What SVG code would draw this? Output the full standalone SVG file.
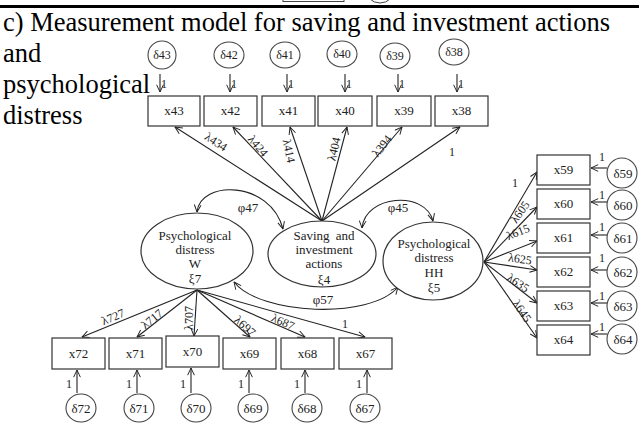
<svg xmlns="http://www.w3.org/2000/svg" width="639" height="423" viewBox="0 0 639 423">
  <defs>
    <marker id="arr" viewBox="0 0 10 10" refX="9.5" refY="5" markerWidth="8" markerHeight="8" markerUnits="userSpaceOnUse" orient="auto-start-reverse">
      <path d="M0.5,0.8 L9.5,5 L0.5,9.2" fill="none" stroke="#222" stroke-width="1.2"/>
    </marker>
    <style>
      text { font-family: "Liberation Serif", "Times New Roman", serif; fill: #222; }
      .title { font-family: "Liberation Serif", "Times New Roman", serif; font-size: 26.5px; fill: #000; }
      .box { fill: #fff; stroke: #333; stroke-width: 1.2; }
      .lat { fill: #fff; stroke: #333; stroke-width: 1.2; }
      .err { fill: #fff; stroke: #444; stroke-width: 1.1; }
      .lbl { font-size: 13px; text-anchor: middle; }
      .sm { font-size: 12px; text-anchor: middle; }
      .one { font-size: 12px; text-anchor: middle; }
      .ln { fill: none; stroke: #222; stroke-width: 1.1; marker-end: url(#arr); }
      .cov { fill: none; stroke: #222; stroke-width: 1.1; marker-start: url(#arr); marker-end: url(#arr); }
    </style>
  </defs>
  <rect width="639" height="423" fill="#fff"/>

  <!-- header rule and the edge of the preceding panel -->
  <g id="header">
    <rect x="283" y="-20" width="61" height="21.5" fill="#fff" stroke="#444" stroke-width="1"/>
    <circle cx="380" cy="-12" r="15" fill="none" stroke="#444" stroke-width="1"/>
    <line x1="0" y1="6.5" x2="639" y2="6.5" stroke="#000" stroke-width="3"/>
    <text class="title" x="3" y="31" textLength="607" lengthAdjust="spacingAndGlyphs">c) Measurement model for saving and investment actions</text>
    <text class="title" x="3" y="62">and</text>
    <text class="title" x="3" y="93">psychological</text>
    <text class="title" x="3" y="124">distress</text>
  </g>

  <!-- connectors -->
  <g id="connectors">
    <!-- error terms to top indicators -->
    <line class="ln" x1="160" y1="74" x2="160" y2="92"/>
    <line class="ln" x1="230" y1="74" x2="230" y2="92"/>
    <line class="ln" x1="287" y1="74" x2="287" y2="92"/>
    <line class="ln" x1="345" y1="74" x2="345" y2="92"/>
    <line class="ln" x1="398" y1="74" x2="398" y2="92"/>
    <line class="ln" x1="457" y1="74" x2="457" y2="92"/>
    <!-- saving and investment loadings -->
    <line class="ln" x1="322" y1="221" x2="175" y2="127"/>
    <line class="ln" x1="322" y1="221" x2="233" y2="127"/>
    <line class="ln" x1="322" y1="221" x2="290" y2="127"/>
    <line class="ln" x1="322" y1="221" x2="347" y2="127"/>
    <line class="ln" x1="322" y1="221" x2="402" y2="127"/>
    <line class="ln" x1="322" y1="221" x2="460" y2="127"/>
    <!-- distress W loadings -->
    <line class="ln" x1="197" y1="290" x2="82" y2="337"/>
    <line class="ln" x1="197" y1="290" x2="137" y2="337"/>
    <line class="ln" x1="197" y1="290" x2="194" y2="336"/>
    <line class="ln" x1="197" y1="290" x2="250" y2="337"/>
    <line class="ln" x1="197" y1="290" x2="305" y2="337"/>
    <line class="ln" x1="197" y1="290" x2="365" y2="337"/>
    <!-- error terms to bottom indicators -->
    <line class="ln" x1="77" y1="393" x2="77" y2="370"/>
    <line class="ln" x1="137" y1="393" x2="137" y2="370"/>
    <line class="ln" x1="191" y1="393" x2="191" y2="368"/>
    <line class="ln" x1="249" y1="393" x2="249" y2="370"/>
    <line class="ln" x1="305" y1="393" x2="305" y2="370"/>
    <line class="ln" x1="367" y1="393" x2="367" y2="370"/>
    <!-- distress HH loadings -->
    <line class="ln" x1="484" y1="262" x2="537" y2="172"/>
    <line class="ln" x1="484" y1="262" x2="537" y2="207"/>
    <line class="ln" x1="484" y1="262" x2="537" y2="241"/>
    <line class="ln" x1="484" y1="262" x2="537" y2="270"/>
    <line class="ln" x1="484" y1="262" x2="537" y2="303"/>
    <line class="ln" x1="484" y1="262" x2="537" y2="338"/>
    <!-- error terms to right indicators -->
    <line class="ln" x1="607" y1="168" x2="591" y2="168"/>
    <line class="ln" x1="607" y1="202" x2="591" y2="202"/>
    <line class="ln" x1="607" y1="235" x2="591" y2="235"/>
    <line class="ln" x1="607" y1="270" x2="591" y2="270"/>
    <line class="ln" x1="607" y1="303" x2="591" y2="303"/>
    <line class="ln" x1="607" y1="334" x2="591" y2="334"/>
    <!-- covariances -->
    <path class="cov" d="M197,212 C200,180 270,180 283,229"/>
    <path class="cov" d="M362,228 C365,195 425,190 433,221"/>
    <path class="cov" d="M234,282 C260,315 370,320 398,287"/>

    <!-- connector labels -->
    <text class="one" x="164" y="88" text-anchor="start">1</text>
    <text class="one" x="234" y="88" text-anchor="start">1</text>
    <text class="one" x="291" y="88" text-anchor="start">1</text>
    <text class="one" x="349" y="88" text-anchor="start">1</text>
    <text class="one" x="402" y="88" text-anchor="start">1</text>
    <text class="one" x="461" y="88" text-anchor="start">1</text>

    <text class="sm" transform="translate(216,142) rotate(33)" y="4">λ434</text>
    <text class="sm" transform="translate(258,146) rotate(50)" y="4">λ424</text>
    <text class="sm" transform="translate(289,151) rotate(78)" y="4">λ414</text>
    <text class="sm" transform="translate(334,149) rotate(-77)" y="4">λ404</text>
    <text class="sm" transform="translate(382,146) rotate(-52)" y="4">λ394</text>
    <text class="one" x="452" y="156">1</text>

    <text class="lbl" x="248" y="212">φ47</text>
    <text class="lbl" x="398" y="212">φ45</text>
    <text class="lbl" x="323" y="304">φ57</text>

    <text class="sm" transform="translate(113,317) rotate(-23)" y="4">λ727</text>
    <text class="sm" transform="translate(152,319) rotate(-39)" y="4">λ717</text>
    <text class="sm" transform="translate(189,318) rotate(-90)" y="4">λ707</text>
    <text class="sm" transform="translate(245,326) rotate(42)" y="4">λ697</text>
    <text class="sm" transform="translate(283,322) rotate(24)" y="4">λ687</text>
    <text class="one" x="345" y="328">1</text>

    <text class="one" x="69" y="388">1</text>
    <text class="one" x="129" y="388">1</text>
    <text class="one" x="183" y="388">1</text>
    <text class="one" x="241" y="388">1</text>
    <text class="one" x="297" y="388">1</text>
    <text class="one" x="359" y="388">1</text>

    <text class="one" x="515" y="187">1</text>
    <text class="sm" transform="translate(520,212) rotate(-55)" y="4">λ605</text>
    <text class="sm" transform="translate(518,232) rotate(-22)" y="4">λ615</text>
    <text class="sm" transform="translate(520,259) rotate(8)" y="4">λ625</text>
    <text class="sm" transform="translate(518,283) rotate(34)" y="4">λ635</text>
    <text class="sm" transform="translate(522,311) rotate(55)" y="4">λ645</text>

    <text class="one" x="602" y="161">1</text>
    <text class="one" x="602" y="199">1</text>
    <text class="one" x="602" y="231">1</text>
    <text class="one" x="602" y="262">1</text>
    <text class="one" x="602" y="300">1</text>
    <text class="one" x="602" y="331">1</text>
  </g>

  <!-- top indicators and their errors -->
  <g id="d43"><ellipse class="err" cx="162" cy="55" rx="14" ry="14"/><text class="sm" x="162" y="59">δ43</text></g>
  <g id="d42"><ellipse class="err" cx="229" cy="55" rx="15" ry="13"/><text class="sm" x="229" y="59">δ42</text></g>
  <g id="d41"><ellipse class="err" cx="285" cy="55" rx="15" ry="13"/><text class="sm" x="285" y="59">δ41</text></g>
  <g id="d40"><ellipse class="err" cx="342" cy="54" rx="15" ry="13"/><text class="sm" x="342" y="58">δ40</text></g>
  <g id="d39"><ellipse class="err" cx="395" cy="56" rx="15" ry="13"/><text class="sm" x="395" y="60">δ39</text></g>
  <g id="d38"><ellipse class="err" cx="454" cy="52" rx="15" ry="13"/><text class="sm" x="454" y="56">δ38</text></g>

  <g id="x43"><rect class="box" x="148" y="96" width="52" height="30"/><text class="lbl" x="174" y="115">x43</text></g>
  <g id="x42"><rect class="box" x="204" y="96" width="53" height="30"/><text class="lbl" x="230.5" y="115">x42</text></g>
  <g id="x41"><rect class="box" x="262" y="96" width="53" height="30"/><text class="lbl" x="288.5" y="115">x41</text></g>
  <g id="x40"><rect class="box" x="318" y="96" width="54" height="30"/><text class="lbl" x="345" y="115">x40</text></g>
  <g id="x39"><rect class="box" x="377" y="96" width="54" height="30"/><text class="lbl" x="404" y="115">x39</text></g>
  <g id="x38"><rect class="box" x="435" y="96" width="53" height="30"/><text class="lbl" x="461.5" y="115">x38</text></g>

  <!-- latent factors -->
  <g id="xi7">
    <ellipse class="lat" cx="197" cy="251" rx="56" ry="38"/>
    <text class="lbl" x="195" y="240">Psychological</text>
    <text class="lbl" x="195" y="254">distress</text>
    <text class="lbl" x="195" y="268">W</text>
    <text class="lbl" x="195" y="283">ξ7</text>
  </g>
  <g id="xi4">
    <ellipse class="lat" cx="322" cy="254" rx="54" ry="33"/>
    <text class="lbl" x="324" y="240" word-spacing="3">Saving and</text>
    <text class="lbl" x="324" y="254">investment</text>
    <text class="lbl" x="324" y="268">actions</text>
    <text class="lbl" x="324" y="284">ξ4</text>
  </g>
  <g id="xi5">
    <ellipse class="lat" cx="433" cy="261" rx="50" ry="39"/>
    <text class="lbl" x="434" y="248">Psychological</text>
    <text class="lbl" x="434" y="262">distress</text>
    <text class="lbl" x="434" y="277">HH</text>
    <text class="lbl" x="434" y="292">ξ5</text>
  </g>

  <!-- bottom indicators and their errors -->
  <g id="x72"><rect class="box" x="52" y="338" width="53" height="31"/><text class="lbl" x="78.5" y="358">x72</text></g>
  <g id="x71"><rect class="box" x="109" y="338" width="53" height="31"/><text class="lbl" x="135.5" y="358">x71</text></g>
  <g id="x70"><rect class="box" x="166" y="336" width="53" height="31"/><text class="lbl" x="192.5" y="356">x70</text></g>
  <g id="x69"><rect class="box" x="223" y="338" width="53" height="31"/><text class="lbl" x="249.5" y="358">x69</text></g>
  <g id="x68"><rect class="box" x="281" y="338" width="53" height="31"/><text class="lbl" x="307.5" y="358">x68</text></g>
  <g id="x67"><rect class="box" x="339" y="338" width="53" height="31"/><text class="lbl" x="365.5" y="358">x67</text></g>

  <g id="d72"><ellipse class="err" cx="81" cy="408" rx="15" ry="14"/><text class="lbl" x="81" y="413">δ72</text></g>
  <g id="d71"><ellipse class="err" cx="139" cy="408" rx="15" ry="14"/><text class="lbl" x="139" y="413">δ71</text></g>
  <g id="d70"><ellipse class="err" cx="196" cy="408" rx="15" ry="14"/><text class="lbl" x="196" y="413">δ70</text></g>
  <g id="d69"><ellipse class="err" cx="253" cy="408" rx="15" ry="14"/><text class="lbl" x="253" y="413">δ69</text></g>
  <g id="d68"><ellipse class="err" cx="307" cy="408" rx="15" ry="14"/><text class="lbl" x="307" y="413">δ68</text></g>
  <g id="d67"><ellipse class="err" cx="365" cy="408" rx="15" ry="14"/><text class="lbl" x="365" y="413">δ67</text></g>

  <!-- right indicators and their errors -->
  <g id="x59"><rect class="box" x="537" y="155" width="53" height="30"/><text class="lbl" x="563.5" y="174">x59</text></g>
  <g id="x60"><rect class="box" x="537" y="189" width="53" height="30"/><text class="lbl" x="563.5" y="208">x60</text></g>
  <g id="x61"><rect class="box" x="537" y="223" width="53" height="30"/><text class="lbl" x="563.5" y="242">x61</text></g>
  <g id="x62"><rect class="box" x="537" y="257" width="53" height="30"/><text class="lbl" x="563.5" y="276">x62</text></g>
  <g id="x63"><rect class="box" x="537" y="291" width="53" height="30"/><text class="lbl" x="563.5" y="310">x63</text></g>
  <g id="x64"><rect class="box" x="537" y="325" width="53" height="30"/><text class="lbl" x="563.5" y="344">x64</text></g>

  <g id="d59"><ellipse class="err" cx="622" cy="173" rx="15" ry="15"/><text class="lbl" x="623" y="178">δ59</text></g>
  <g id="d60"><ellipse class="err" cx="622" cy="205" rx="15" ry="15"/><text class="lbl" x="623" y="210">δ60</text></g>
  <g id="d61"><ellipse class="err" cx="622" cy="238" rx="15" ry="15"/><text class="lbl" x="623" y="243">δ61</text></g>
  <g id="d62"><ellipse class="err" cx="622" cy="272" rx="15" ry="15"/><text class="lbl" x="623" y="277">δ62</text></g>
  <g id="d63"><ellipse class="err" cx="622" cy="306" rx="15" ry="15"/><text class="lbl" x="623" y="311">δ63</text></g>
  <g id="d64"><ellipse class="err" cx="622" cy="339" rx="15" ry="15"/><text class="lbl" x="623" y="344">δ64</text></g>
</svg>
